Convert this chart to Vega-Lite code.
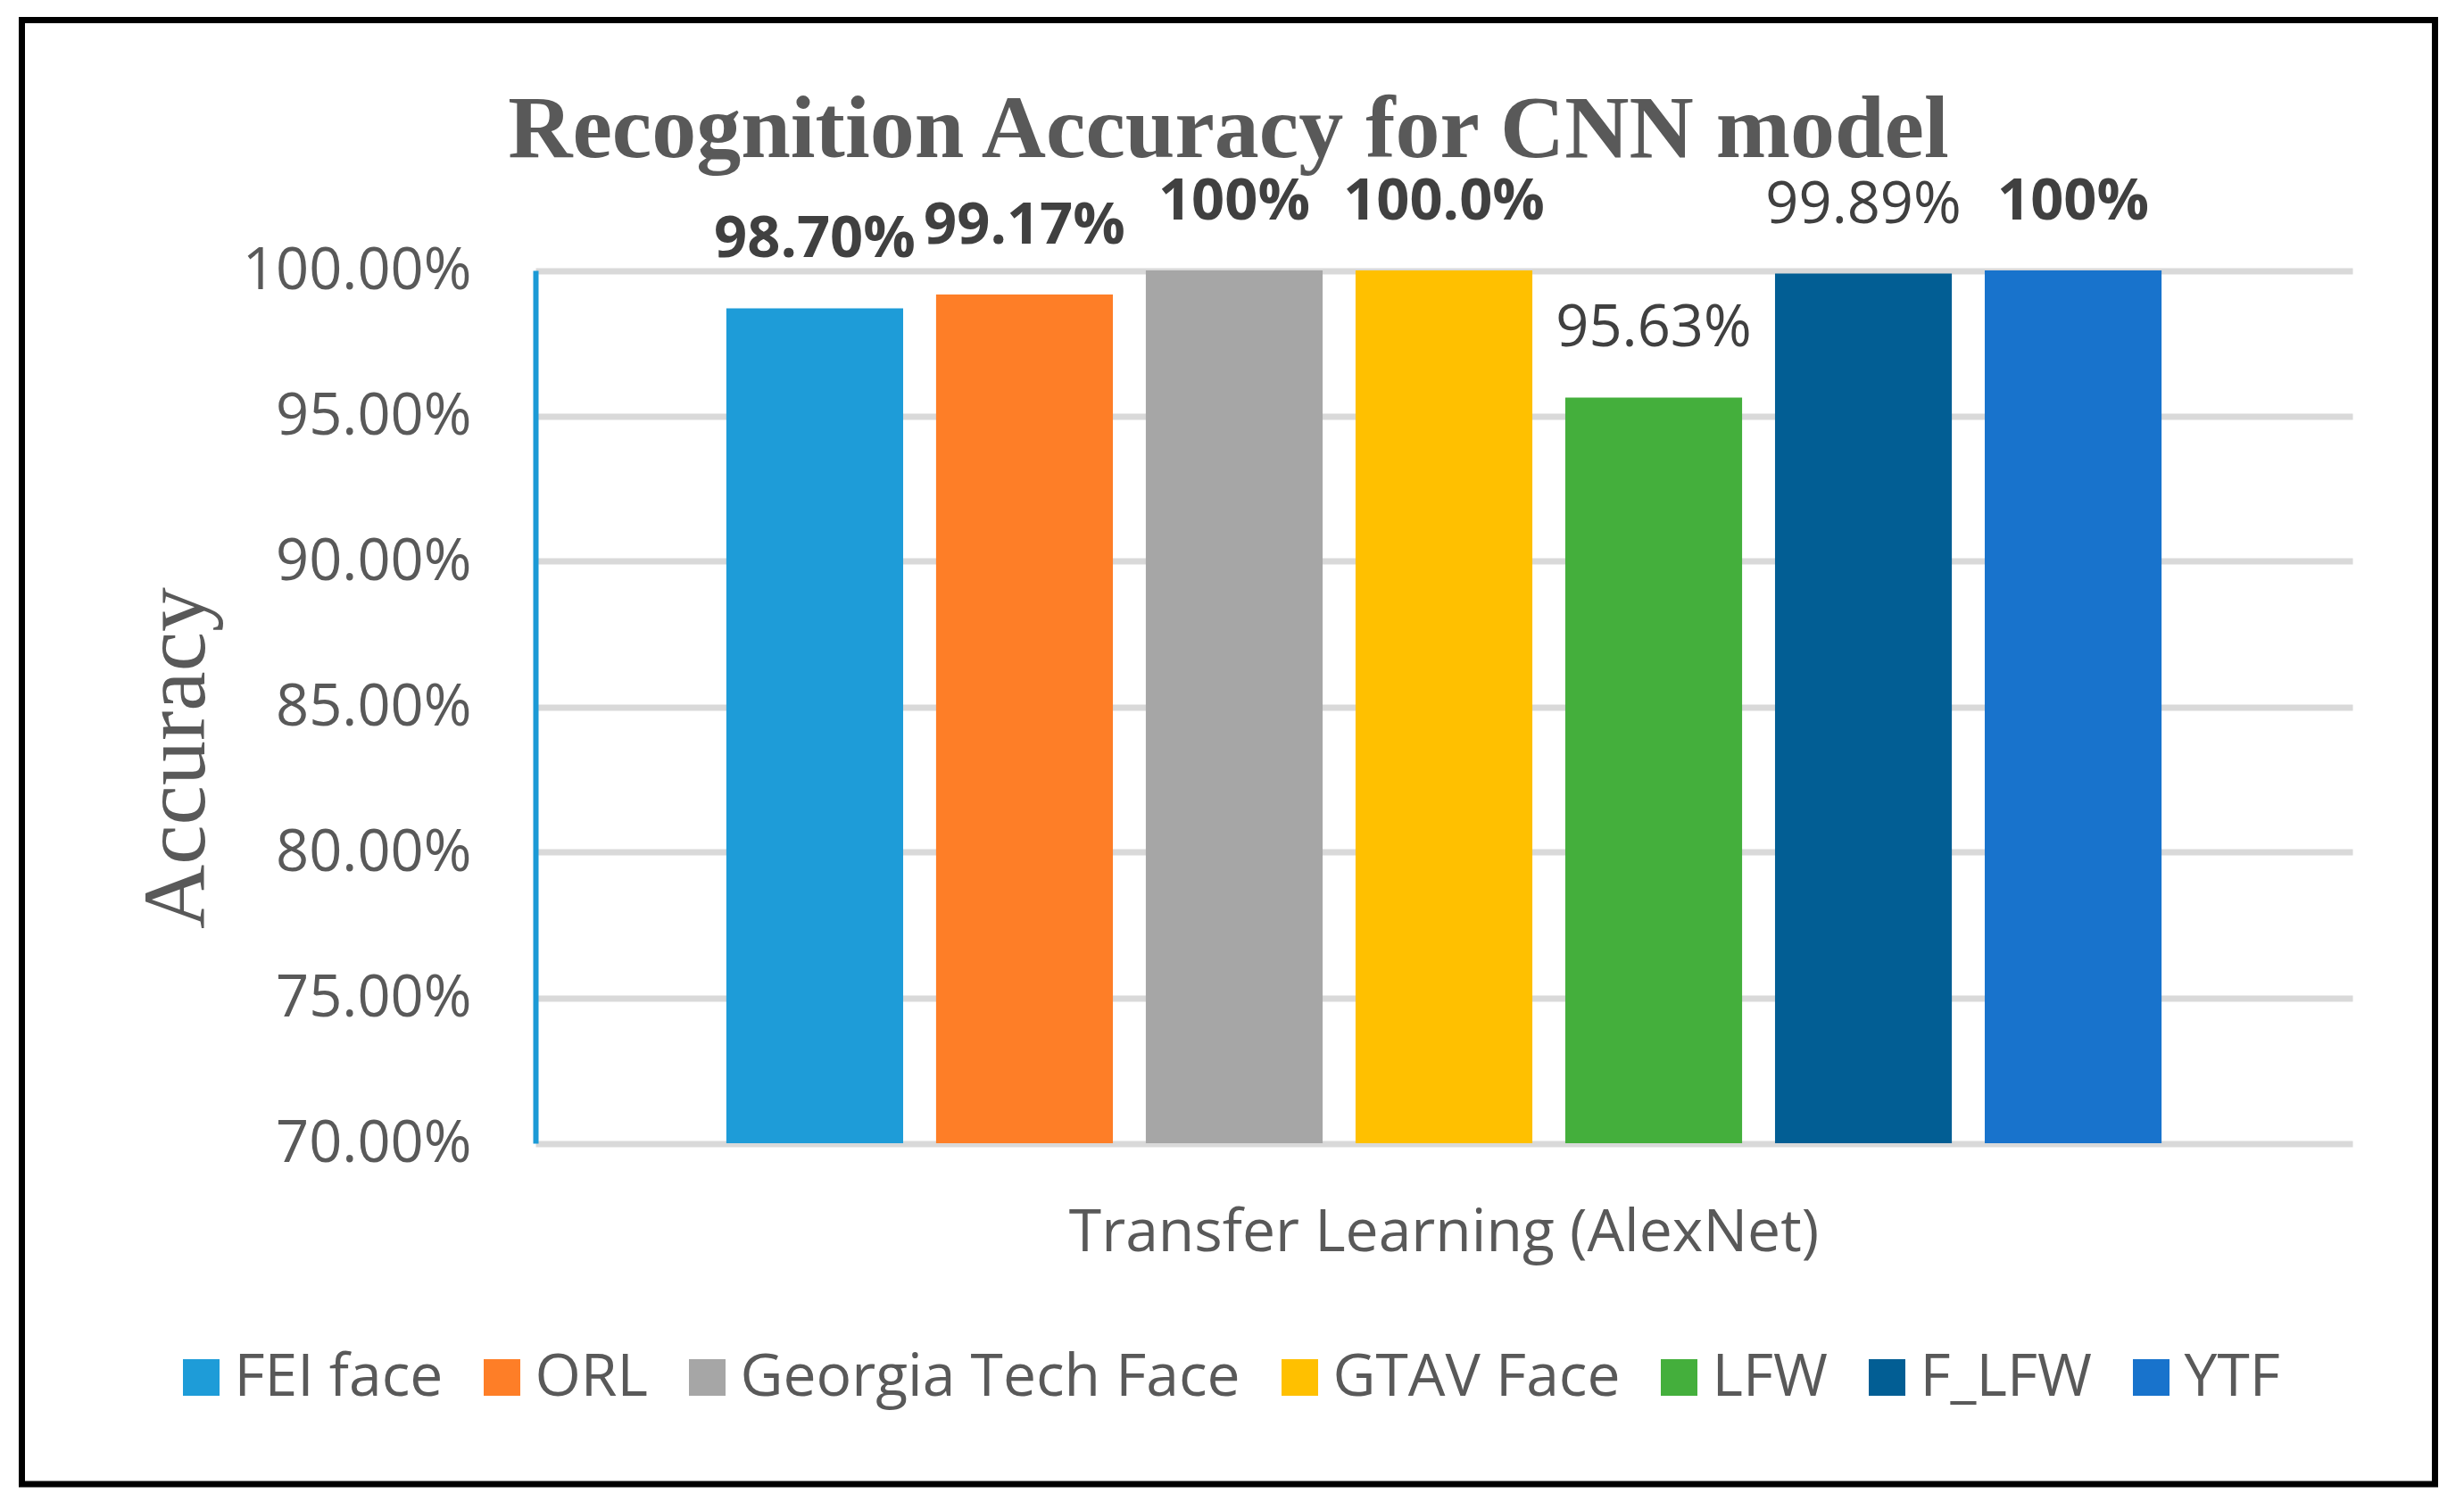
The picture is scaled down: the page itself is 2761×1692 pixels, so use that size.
{
  "$schema": "https://vega.github.io/schema/vega-lite/v6.json",
  "autosize": {"type": "none"},
  "width": 2704,
  "height": 1640.5,
  "padding": {"left": 24.5, "top": 22.5, "right": 32.5, "bottom": 29},
  "background": "white",
  "config": {
    "view": {"stroke": "black", "strokeWidth": 7, "fill": "white"},
    "font": "Open Sans"
  },
  "title": {
    "text": "Recognition Accuracy for CNN model",
    "font": "Liberation Serif",
    "fontSize": 100,
    "fontWeight": "bold",
    "color": "#595959",
    "anchor": "middle",
    "frame": "group",
    "baseline": "alphabetic",
    "offset": -155.5,
    "dx": 0,
    "dy": 98
  },
  "data": {
    "values": [
      {"model": "Transfer Learning (AlexNet)", "dataset": "FEI face", "accuracy": 0.987, "label": "98.70%"},
      {"model": "Transfer Learning (AlexNet)", "dataset": "ORL", "accuracy": 0.9917, "label": "99.17%"},
      {"model": "Transfer Learning (AlexNet)", "dataset": "Georgia Tech Face", "accuracy": 1.0, "label": "100%"},
      {"model": "Transfer Learning (AlexNet)", "dataset": "GTAV Face", "accuracy": 1.0, "label": "100.0%"},
      {"model": "Transfer Learning (AlexNet)", "dataset": "LFW", "accuracy": 0.9563, "label": "95.63%"},
      {"model": "Transfer Learning (AlexNet)", "dataset": "F_LFW", "accuracy": 0.9989, "label": "99.89%"},
      {"model": "Transfer Learning (AlexNet)", "dataset": "YTF", "accuracy": 1.0, "label": "100%"}
    ]
  },
  "encoding": {
    "x": {
      "field": "model",
      "type": "nominal",
      "scale": {"range": [575.5, 2611.5], "paddingInner": 0, "paddingOuter": 0.133},
      "axis": {
        "title": null,
        "orient": "bottom",
        "offset": -382,
        "domain": false,
        "ticks": false,
        "grid": false,
        "labelPadding": 68,
        "labelFont": "Open Sans",
        "labelFontSize": 66,
        "labelColor": "#595959",
        "labelAngle": 0,
        "labelBaseline": "top",
        "labelLimit": 0
      }
    },
    "xOffset": {
      "field": "dataset",
      "type": "nominal",
      "sort": ["FEI face", "ORL", "Georgia Tech Face", "GTAV Face", "LFW", "F_LFW", "YTF"],
      "scale": {"paddingInner": 0.157, "paddingOuter": 0}
    },
    "y": {
      "field": "accuracy",
      "type": "quantitative",
      "scale": {"domain": [0.7, 1.0], "range": [1258.5, 280.5], "nice": false, "zero": false},
      "axis": {
        "title": "Accuracy",
        "format": ".2%",
        "values": [0.7, 0.75, 0.8, 0.85, 0.9, 0.95, 1.0],
        "offset": -575.5,
        "domainColor": "#1B9AD6",
        "domainWidth": 6,
        "ticks": false,
        "labelPadding": 72,
        "labelFont": "Open Sans",
        "labelFontSize": 65,
        "labelColor": "#595959",
        "labelLimit": 0,
        "grid": true,
        "gridColor": "#D9D9D9",
        "gridWidth": 7,
        "titleFont": "Liberation Serif",
        "titleFontSize": 100,
        "titleFontWeight": "normal",
        "titleColor": "#595959",
        "titleAngle": -90,
        "titleX": -372,
        "titleY": 826.5,
        "titleAlign": "center",
        "titleBaseline": "alphabetic"
      }
    }
  },
  "layer": [
    {
      "mark": {"type": "bar"},
      "encoding": {
        "y2": {"datum": 0.7},
        "color": {
          "field": "dataset",
          "type": "nominal",
          "sort": ["FEI face", "ORL", "Georgia Tech Face", "GTAV Face", "LFW", "F_LFW", "YTF"],
          "scale": {
            "domain": ["FEI face", "ORL", "Georgia Tech Face", "GTAV Face", "LFW", "F_LFW", "YTF"],
            "range": ["#1E9CD8", "#FE7E27", "#A6A6A6", "#FFC000", "#44AF3C", "#025E94", "#1873CC"]
          },
          "legend": {
            "title": null,
            "orient": "none",
            "direction": "horizontal",
            "legendX": 168,
            "legendY": 1488,
            "symbolType": "square",
            "symbolSize": 1681,
            "symbolStrokeWidth": 0,
            "symbolOpacity": 1,
            "labelFont": "Open Sans",
            "labelFontSize": 66,
            "labelColor": "#595959",
            "labelOffset": 4,
            "columnPadding": 33,
            "padding": 0,
            "labelLimit": 0
          }
        }
      }
    },
    {
      "transform": [{"filter": "datum.dataset !== 'LFW' && datum.dataset !== 'F_LFW'"}],
      "mark": {"type": "text", "baseline": "alphabetic", "align": "center", "dy": -57, "font": "Open Sans", "fontSize": 65, "fontWeight": "bold", "color": "#404040"},
      "encoding": {"text": {"field": "label"}}
    },
    {
      "transform": [{"filter": "datum.dataset === 'LFW' || datum.dataset === 'F_LFW'"}],
      "mark": {"type": "text", "baseline": "alphabetic", "align": "center", "dy": -57, "font": "Open Sans", "fontSize": 65, "fontWeight": "normal", "color": "#404040"},
      "encoding": {"text": {"field": "label"}}
    }
  ]
}
